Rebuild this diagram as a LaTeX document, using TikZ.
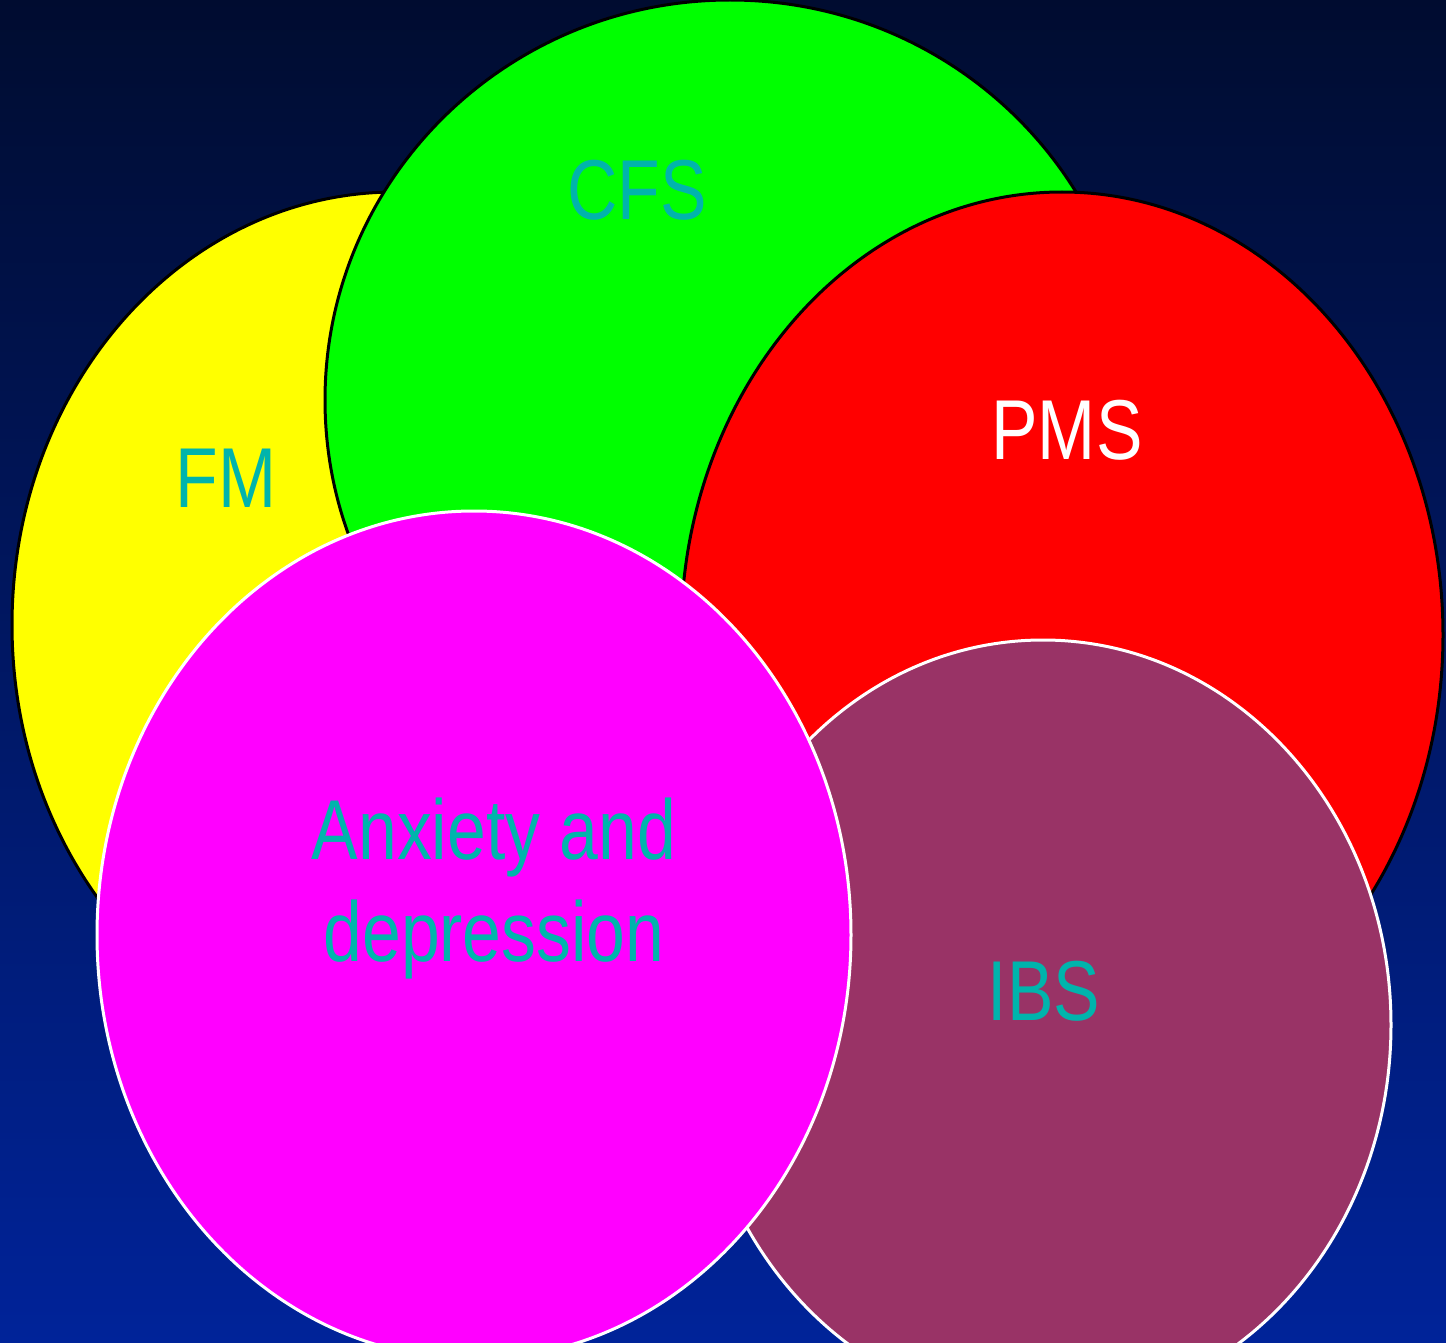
\documentclass[tikz,border=0pt]{standalone}
\usepackage{fontspec}
\usepackage{xcolor}
\usepackage{tikz}
\newfontfamily\narrowsf[FakeStretch=0.82]{Liberation Sans}
\definecolor{bgtop}{HTML}{000C30}
\definecolor{bgbot}{HTML}{002399}
\definecolor{fmfill}{HTML}{FFFF00}
\definecolor{cfsfill}{HTML}{00FF00}
\definecolor{pmsfill}{HTML}{FF0000}
\definecolor{anxfill}{HTML}{FF00FF}
\definecolor{ibsfill}{HTML}{993366}
\definecolor{tealtext}{HTML}{00B4AC}

\begin{document}
\begin{tikzpicture}[
  x=1pt, y=-1pt,
  blob/.style={draw=black, line width=3pt},
  whiteblob/.style={draw=white, line width=3pt},
  lbl/.style={font=\narrowsf\fontsize{85}{102}\selectfont, inner sep=0pt, text=tealtext, anchor=base}
]
\useasboundingbox (0,0) rectangle (1446,1343);
\shade[top color=bgtop, bottom color=bgbot] (0,0) rectangle (1446,1343);
\clip (0,0) rectangle (1446,1343);
% overlapping disorders, back to front
\filldraw[blob, fill=fmfill] (395,625) ellipse [x radius=383pt, y radius=433pt];
\filldraw[blob, fill=cfsfill] (730,400) ellipse [x radius=405pt, y radius=400pt];
\filldraw[blob, fill=pmsfill] (1062,635) ellipse [x radius=381pt, y radius=443pt];
\filldraw[whiteblob, fill=ibsfill] (1043,1025) ellipse [x radius=348pt, y radius=385pt];
\filldraw[whiteblob, fill=anxfill] (474,935) ellipse [x radius=377pt, y radius=424pt];
% labels
\node[lbl] (fm) at (226,507) {FM};
\node[lbl] (cfs) at (637,220) {CFS};
\node[lbl, text=white] (pms) at (1067,459) {PMS};
\node[lbl, anchor=center, align=center] (anx) at (494,889) {Anxiety and\\depression};
\node[lbl] (ibs) at (1044,1020) {IBS};
\end{tikzpicture}
\end{document}
